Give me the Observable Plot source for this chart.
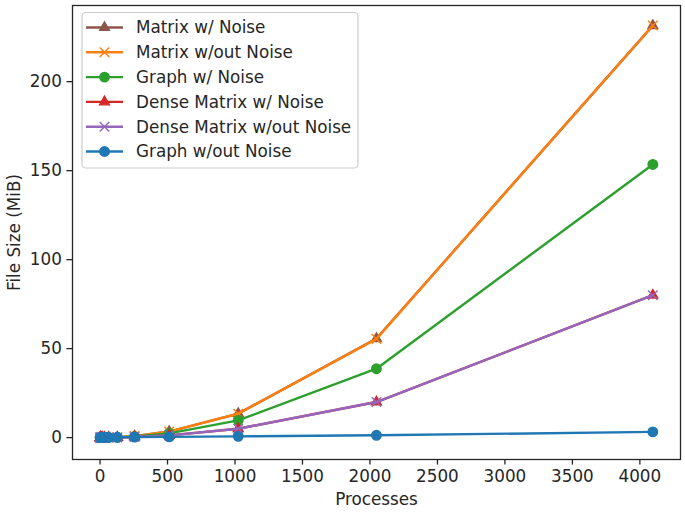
<!DOCTYPE html>
<html><head><meta charset="utf-8">
<script src="https://cdn.jsdelivr.net/npm/d3@7"></script>
<script src="https://cdn.jsdelivr.net/npm/@observablehq/plot@0.6"></script>
<style>
body{margin:0;background:#fff}
#wrap{position:relative;width:685px;height:517px}
</style>
</head><body><div id="wrap"></div>
<script>
// ---- data ----
const processes = [1, 2, 4, 8, 16, 32, 64, 128, 256, 512, 1024, 2048, 4096];
const matrixNoise      = [0.001, 0.001, 0.002, 0.004, 0.01, 0.02, 0.06, 0.22, 0.85, 3.4, 13.5, 55.6, 231.5];
const matrixNoNoise    = [0.001, 0.001, 0.002, 0.004, 0.01, 0.02, 0.06, 0.22, 0.85, 3.4, 13.4, 55.5, 231.6];
const graphNoise       = [0.001, 0.001, 0.002, 0.003, 0.01, 0.02, 0.04, 0.15, 0.6, 2.4, 9.7, 38.7, 153.5];
const denseNoise       = [0.0, 0.0, 0.0, 0.001, 0.005, 0.02, 0.05, 0.08, 0.31, 1.25, 5.0, 20.0, 80.0];
const denseNoNoise     = [0.0, 0.0, 0.0, 0.001, 0.005, 0.02, 0.05, 0.08, 0.31, 1.25, 5.0, 20.0, 80.0];
const graphNoNoise     = [0.01, 0.01, 0.02, 0.03, 0.05, 0.08, 0.12, 0.18, 0.25, 0.4, 0.7, 1.3, 3.2];

const seriesNames  = ["Matrix w/ Noise", "Matrix w/out Noise", "Graph w/ Noise", "Dense Matrix w/ Noise", "Dense Matrix w/out Noise", "Graph w/out Noise"];
const seriesValues = [matrixNoise, matrixNoNoise, graphNoise, denseNoise, denseNoNoise, graphNoNoise];
const seriesColors = ["#8c564b", "#ff7f0e", "#2ca02c", "#d62728", "#9467bd", "#1f77b4"];
const seriesSymbols = ["triangle", "times", "circle", "triangle", "times", "circle"];

const xTicks = [0, 500, 1000, 1500, 2000, 2500, 3000, 3500, 4000];
const yTicks = [0, 50, 100, 150, 200];
const xLabel = "Processes";
const yLabel = "File Size (MiB)";

// ---- build ----
const ink = "#262626";
const symR = {triangle: 3.7, times: 4.4, circle: 4.8};

const marks = [];
seriesNames.forEach((name, i) => {
  const rows = processes.map((p, j) => ({x: p, y: seriesValues[i][j], s: name}));
  marks.push(Plot.line(rows, {x: "x", y: "y", stroke: seriesColors[i], strokeWidth: 2.4}));
  const sym = seriesSymbols[i];
  if (sym === "times") {
    marks.push(Plot.dot(rows, {x: "x", y: "y", symbol: "times", r: symR.times, stroke: seriesColors[i], strokeWidth: 1.5, fill: "none"}));
  } else {
    marks.push(Plot.dot(rows, {x: "x", y: "y", symbol: sym, r: symR[sym], fill: seriesColors[i], stroke: seriesColors[i], strokeWidth: 1.3}));
  }
});

const chart = Plot.plot({
  width: 685,
  height: 517,
  marginLeft: 72,
  marginRight: 5,
  marginTop: 5,
  marginBottom: 58,
  style: {fontFamily: "DejaVu Sans", fontSize: "16.8px", color: ink, background: "white", overflow: "visible"},
  x: {domain: [-204, 4301]},
  y: {domain: [-12.3, 242.8]},
  marks: [
    Plot.axisX({ticks: xTicks, tickFormat: d => String(d), tickSize: 5.6, tickPadding: 4.5, strokeWidth: 1.3,
      label: xLabel, labelAnchor: "center", labelArrow: "none", labelOffset: 45}),
    Plot.axisY({ticks: yTicks, tickFormat: d => String(d), tickSize: 5.6, tickPadding: 5, strokeWidth: 1.3,
      label: yLabel, labelAnchor: "center", labelArrow: "none", labelOffset: 64}),
    ...marks,
    Plot.frame({stroke: ink, strokeWidth: 1.3})
  ]
});
document.getElementById("wrap").appendChild(chart);

// ---- legend (inside the axes, upper left) ----
const svg = d3.select(chart);
const lg = svg.append("g").attr("font-family", "DejaVu Sans").attr("font-size", 16.8).attr("text-anchor", "start");
lg.append("rect").attr("x", 82).attr("y", 12.5).attr("width", 276).attr("height", 155.5)
  .attr("rx", 4).attr("fill", "white").attr("fill-opacity", 0.8).attr("stroke", "#cccccc").attr("stroke-width", 1.2);
seriesNames.forEach((name, i) => {
  const cy = 27.5 + i * 24.8;
  const g = lg.append("g");
  g.append("line").attr("x1", 86).attr("x2", 123).attr("y1", cy).attr("y2", cy)
    .attr("stroke", seriesColors[i]).attr("stroke-width", 2.4);
  const sym = seriesSymbols[i];
  const d3sym = sym === "triangle" ? d3.symbolTriangle : sym === "times" ? d3.symbolTimes : d3.symbolCircle;
  const r = symR[sym];
  const p = g.append("path").attr("transform", `translate(104.5,${cy})`)
    .attr("d", d3.symbol(d3sym, Math.PI * r * r)());
  if (sym === "times") p.attr("fill", "none").attr("stroke", seriesColors[i]).attr("stroke-width", 1.5);
  else p.attr("fill", seriesColors[i]).attr("stroke", seriesColors[i]).attr("stroke-width", 1.3);
  g.append("text").attr("x", 136).attr("y", cy).attr("dy", "0.35em").attr("fill", ink).text(name);
});
</script>
</body></html>
